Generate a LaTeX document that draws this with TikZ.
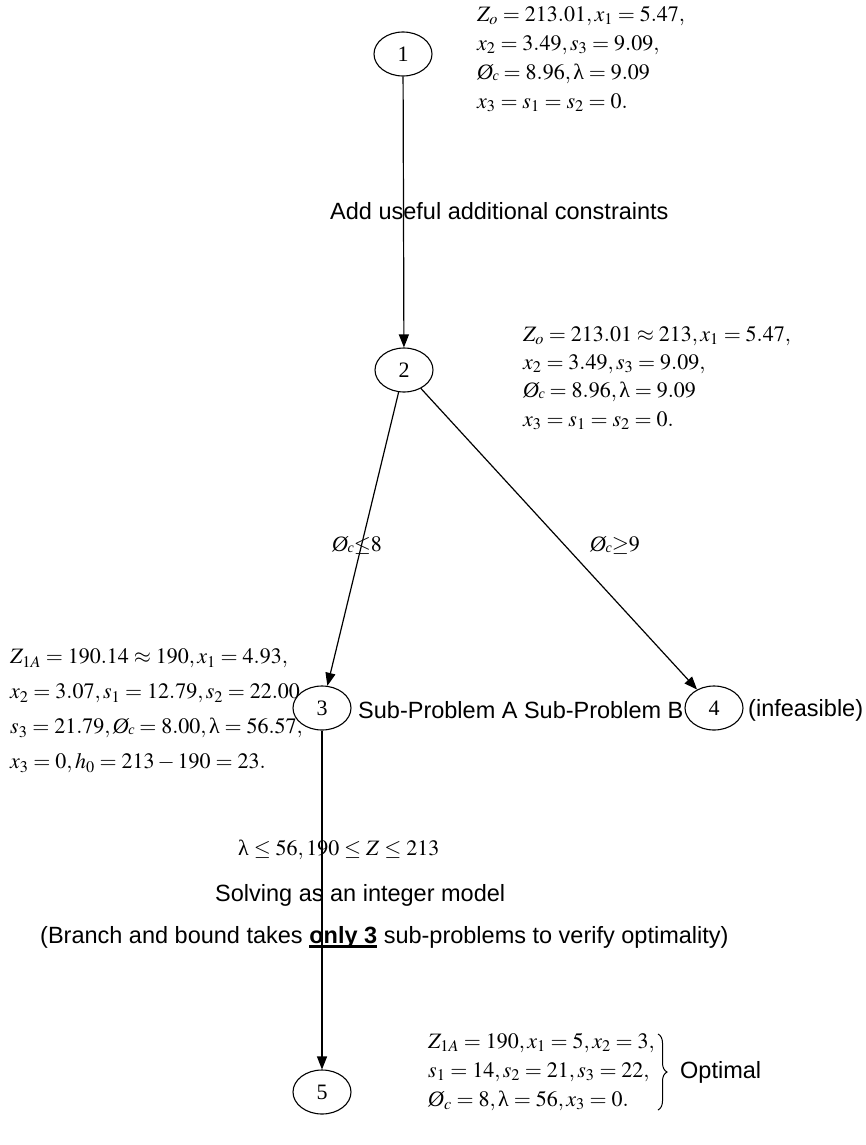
\documentclass[tikz,border=0pt]{standalone}
\usepackage{mathptmx}
\usepackage[no-math]{fontspec}
\setmainfont{Liberation Serif}
\setsansfont{Liberation Sans}
\usetikzlibrary{arrows.meta,shapes.geometric,decorations.pathreplacing}
\newcommand{\Oc}{\mbox{\itshape Ø\kern-0.5pt\raisebox{-1pt}{\fontsize{14}{14}\selectfont c}}}
\newcommand{\Osub}{\mbox{\itshape Ø}_{c}}
\newcommand{\lam}{\mbox{λ}}
\newcommand{\thickul}[1]{\setbox0\hbox{#1}\rlap{\rule[-4.5pt]{\wd0}{2.2pt}}\box0\relax}
\begin{document}
\begin{tikzpicture}[x=1pt,y=-1pt,
  state/.style={ellipse, draw, line width=1.1pt, minimum width=58pt, minimum height=44pt, inner sep=0pt, font=\fontsize{22}{22}\selectfont},
  mtext/.style={align=left, inner sep=0pt, anchor=west, font=\fontsize{22}{29}\selectfont},
  stext/.style={inner sep=0pt, anchor=west, font=\sffamily\fontsize{23.5}{28}\selectfont},
  arr/.style={-{Triangle[length=13pt,width=10pt]}, line width=1.2pt}]
\useasboundingbox (0,0) rectangle (866,1145);
\fill[white] (0,0) rectangle (866,1145);

\node[state] (n1) at (403,54) {1};
\node[state] (n2) at (404,370) {2};
\node[state] (n3) at (322,708) {3};
\node[state] (n4) at (714,708) {4};
\node[state] (n5) at (322,1092) {5};

\node[mtext] (t1) at (477,59) {$Z_o = 213.01, x_1 = 5.47,$\\ $x_2 = 3.49, s_3 = 9.09,$\\ $\Oc = 8.96, \lam = 9.09$\\ $x_3 = s_1 = s_2 = 0.$};
\node[mtext, font=\fontsize{22}{28.3}\selectfont] (t2) at (523,378) {$Z_o = 213.01 \approx 213, x_1 = 5.47,$\\ $x_2 = 3.49, s_3 = 9.09,$\\ $\Oc = 8.96, \lam = 9.09$\\ $x_3 = s_1 = s_2 = 0.$};
\node[mtext, font=\fontsize{22}{35}\selectfont] (t3) at (10,711) {$Z_{1A} = 190.14 \approx 190, x_1 = 4.93,$\\ $x_2 = 3.07, s_1 = 12.79, s_2 = 22.00$\\ $s_3 = 21.79, \Oc = 8.00, \lam = 56.57,$\\ $x_3 = 0, h_0 = 213 - 190 = 23.$};
\node[mtext] (t5) at (428,1072) {$Z_{1A} = 190, x_1 = 5, x_2 = 3,$\\ $s_1 = 14, s_2 = 21, s_3 = 22,$\\ $\Osub = 8, \lam = 56, x_3 = 0.$};

\node[stext] (add) at (330,211) {Add useful additional constraints};
\node[mtext] (l8) at (332,545) {$\Oc{\le}8$};
\node[mtext] (l9) at (590,545) {$\Oc{\ge}9$};
\node[stext] (sub) at (358,710) {Sub-Problem A Sub-Problem B};
\node[stext] (inf) at (748,710) {(infeasible)};
\node[mtext] (lam) at (238,850) {$\lam \le 56, 190 \le Z \le 213$};
\node[stext] (solv) at (215,895) {Solving as an integer model};
\node[stext] (bb) at (40,937) {(Branch and bound takes \thickul{\textbf{only 3}} sub-problems to verify optimality)};
\node[stext] (opt) at (680,1072) {Optimal};

\coordinate (bt) at (658,1034);
\coordinate (bm) at (658,1110);
\draw[decorate, decoration={brace, amplitude=9pt}, line width=1pt] (bt) -- (bm);

\draw[arr] (n1) -- (n2);
\draw[arr] (n2) -- (n3);
\draw[arr] (n2) -- (n4);
\draw[arr] (n3) -- (n5);
\end{tikzpicture}
\end{document}
